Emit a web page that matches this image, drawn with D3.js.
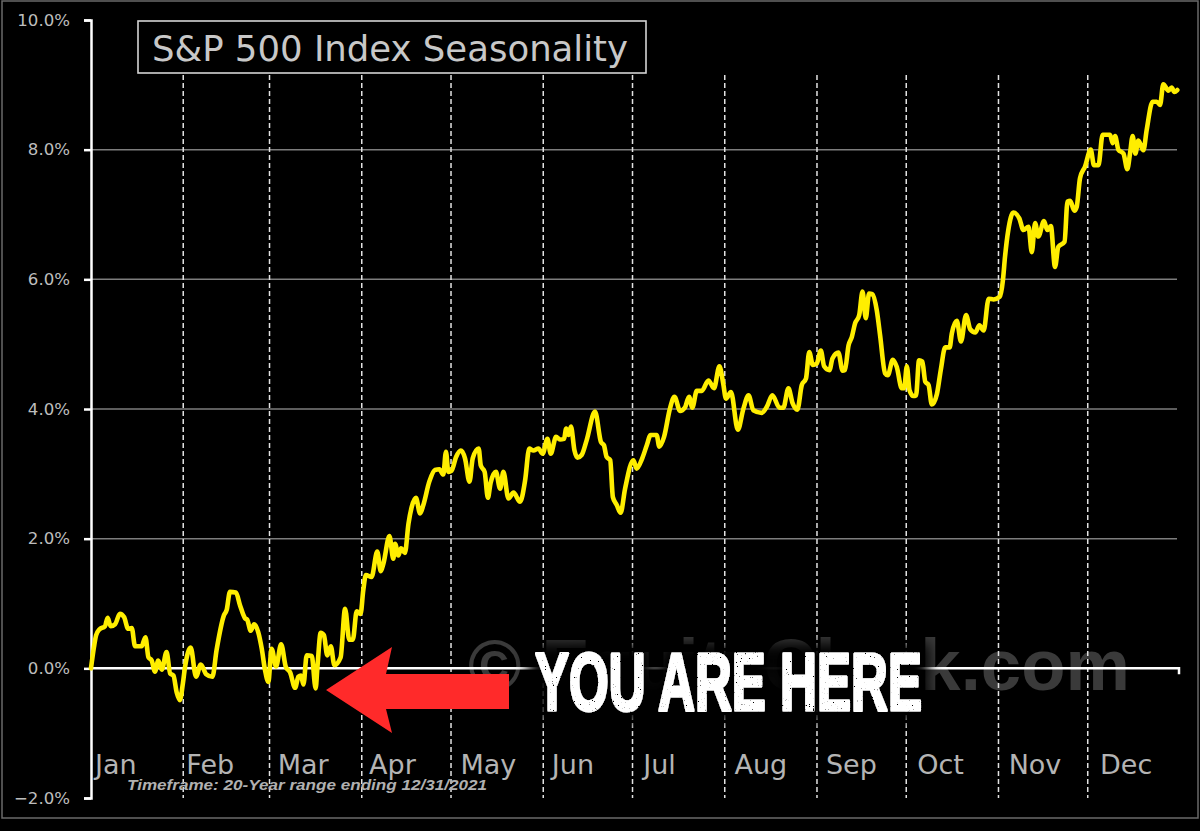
<!DOCTYPE html>
<html>
<head>
    <title>S&amp;P 500 Index Seasonality</title>
    <script src="https://d3js.org/d3.v7.min.js"></script>
    <style>
    html, body { margin: 0; padding: 0; background: #000; overflow: hidden; }
    svg { display: block; }
    </style>
</head>
<body>
<svg id="chart" width="1200" height="831"></svg>

<script type="text/javascript">

const months = ['Jan','Feb','Mar','Apr','May','Jun','Jul','Aug','Sep','Oct','Nov','Dec'];
const monthStarts = [31,60,91,121,152,182,213,244,274,305,335];   //day of year where each dashed line sits
const yTicks = [-2,0,2,4,6,8,10];

//day of year and seasonal return (%)
const days = [
    0,1,1.7,2.8,4.7,5.6,6.6,8.1,9.7,11.1,12.5,13.7,14.8,17,18.3,19.3,20.4,21.5,22.6,23.8,25.4,26.6,27.7,28.8,29.9,
    30.8,31.6,33.5,35.3,36.9,38.7,40.8,42.2,44.7,45.6,46.7,48.7,50.1,51.8,52.5,53.7,54.8,56.2,57.4,58.5,59.6,
    60.7,62.2,63.9,65.5,66.9,68.6,69.7,70.6,71.4,72.5,74.2,75.5,76.1,77.2,78.3,79.4,80.6,81.8,83.9,85.4,86.8,88,89.3,90.6,
    91.5,92.4,94.3,96.2,97.4,98.3,100.3,101.6,102.2,103.3,104.2,105.5,106.7,107.8,109.2,110.6,111.7,113.7,115.6,117.1,118.4,119.3,120.1,
    121.2,122.7,124.3,125.7,127.2,128.3,130.3,131,132.3,133.4,134.3,136.1,137.5,138.6,140.3,142,144.2,145.9,147.3,148.7,150.4,
    151.8,153.4,154.5,156.3,157.6,159,159.7,160.5,161.3,162.5,163.5,164.9,166.6,169.4,171.4,172.4,173.3,174.5,175.4,176.7,178,179.5,
    182.3,183.4,185.1,186.8,188.1,190.1,191,192.6,194.6,196.1,198,199.6,201,202.1,203.6,205.3,207.5,209.4,211.2,
    212.5,213.4,215.1,217.4,219.3,221,222.6,225.4,227.1,229,231.4,232.7,234.4,235.8,237.4,238.9,240.3,241.4,242.6,
    243.9,245.3,246.4,248.2,249.2,251.2,252.6,253.4,254.6,255.7,256.8,258.2,259.3,260.4,261.5,262.6,264.1,265.2,266.9,267.8,269.5,270.8,272.5,273.3,
    274.2,275.1,276.4,277.3,278.3,279.4,280.4,281.5,282.6,284.3,285.6,287.1,288.6,289.3,291,292.4,294.1,295.5,297.2,298.6,300,301.7,303.4,
    305.4,306.5,307.2,308.3,310,312,313.4,315.1,316.2,317.3,318.4,320.3,321.4,322.6,324,325.1,327.2,328.2,329.1,330.5,331.3,332.4,334.1,
    336,337.1,338.6,340,342.5,343.4,344.2,345.3,347,348.3,349.2,350.1,351,352,353.7,354.8,356.8,358.2,359.3,360.4,362.1,363.2,364.1,365.1
];
const seasonality = [
    0,.33,.51,.6,.65,.78,.65,.68,.84,.79,.61,.62,.34,.34,.48,.17,.12,-.05,.12,-.02,.25,-.08,-.11,-.37,-.49,
    -.26,.02,.32,-.13,.06,-.09,-.13,.28,.82,.9,1.18,1.17,.97,.77,.75,.58,.68,.56,.3,-.03,-.21,
    .3,.03,.37,.02,-.06,-.3,-.13,-.11,-.25,.2,.19,-.31,.02,.55,.51,.2,.34,.05,.17,.92,.44,.44,.88,.84,
    1.2,1.44,1.41,1.8,1.5,1.62,2.04,1.69,1.92,1.74,1.85,1.78,2.23,2.49,2.63,2.39,2.52,2.88,3.06,3.07,2.99,3.34,3.03,
    3.05,3.26,3.36,3.24,2.88,3.24,3.39,3.13,3.03,2.63,2.86,3.03,2.77,3.03,2.62,2.71,2.57,2.9,3.39,3.36,3.39,
    3.31,3.54,3.31,3.57,3.53,3.54,3.7,3.6,3.73,3.36,3.25,3.29,3.52,3.96,3.49,3.44,3.26,3.21,2.64,2.52,2.4,2.77,
    3.21,3.08,3.22,3.44,3.6,3.6,3.42,3.57,4.01,4.19,3.97,4.02,4.19,4.02,4.28,4.28,4.44,4.32,4.66,
    4.39,4.16,4.26,3.68,4.01,4.21,3.98,3.94,4.03,4.21,4.02,4.02,4.32,4.09,3.99,4.37,4.47,4.88,4.68,
    4.7,4.9,4.66,4.6,4.78,4.87,4.59,4.6,4.98,5.11,5.32,5.45,5.81,5.4,5.78,5.77,5.52,5.14,4.55,4.52,4.76,4.65,4.32,4.32,
    4.66,4.29,4.2,4.21,4.75,4.73,4.42,4.37,4.07,4.23,4.6,4.95,4.95,5.16,5.36,5.04,5.45,5.23,5.18,5.29,5.21,5.7,5.69,
    5.73,5.99,6.35,6.76,7.03,6.94,6.76,6.81,6.42,6.87,6.66,6.9,6.76,6.82,6.19,6.5,6.58,7.2,7.21,7.06,7.12,7.56,7.74,
    8,7.76,7.76,8.23,8.23,8.1,8.21,8,7.94,7.7,7.94,8.21,7.94,8.14,7.99,8.3,8.74,8.74,8.69,9.01,8.91,8.96,8.89,8.92
];

const svg = d3.select('#chart');
const defs = svg.append('defs');

const xScale = d3.scaleLinear().domain([0,365]).range([91,1177]);
const yScale = d3.scaleLinear().domain([-2,10]).range([798,20]);
const monthScale = d3.scalePoint().domain(months).range([95,1100]);

const sans = '"DejaVu Sans", Verdana, sans-serif';
const labelGrey = '#bdbdbd';

//outer frame
svg.append('rect')
    .attr('x',2).attr('y',1).attr('width',1196).attr('height',817)
    .attr('fill','#000').attr('stroke','#6a6a6a').attr('stroke-width',1.5);

//faint watermark sits under everything else
svg.append('text')
    .attr('x',468).attr('y',690)
    .attr('textLength',662).attr('lengthAdjust','spacingAndGlyphs')
    .style('font-family','"Liberation Sans", Arial, sans-serif')
    .style('font-weight','bold').style('font-size','72px')
    .attr('fill','#3a3a3a')
    .text('© EquityClock.com');

//horizontal grid
svg.append('g').selectAll('line')
    .data(yTicks.filter(d=>d>-2 && d<10 && d!==0))
    .enter().append('line')
    .attr('x1',xScale(0)).attr('x2',xScale(365))
    .attr('y1',d=>yScale(d)).attr('y2',d=>yScale(d))
    .attr('stroke','#7d7d7d').attr('stroke-width',1.5);

//month separators
svg.append('g').selectAll('line')
    .data(monthStarts)
    .enter().append('line')
    .attr('x1',d=>xScale(d)).attr('x2',d=>xScale(d))
    .attr('y1',75).attr('y2',yScale(-2))
    .attr('stroke','#e2e2e2').attr('stroke-width',1.5)
    .attr('stroke-dasharray','5,3');

//zero line with its end tick
svg.append('path')
    .attr('d',`M${xScale(0)},${yScale(0)}H${xScale(365)+2}V${yScale(0)+6}`)
    .attr('fill','none').attr('stroke','#fff').attr('stroke-width',2.5);

//y axis
const yAxis = d3.axisLeft(yScale)
    .tickValues(yTicks)
    .tickFormat(d=>d3.format('.1f')(d)+'%')
    .tickSize(7)
    .tickPadding(14);

const yAxisG = svg.append('g')
    .attr('transform',`translate(${xScale(0)},0)`)
    .call(yAxis);
yAxisG.select('.domain').attr('stroke','#fff').attr('stroke-width',2.5);
yAxisG.selectAll('.tick line').attr('stroke','#fff').attr('stroke-width',2.5);
yAxisG.selectAll('.tick text')
    .style('font-family',sans).style('font-size','16.6px')
    .attr('fill',labelGrey);

//month labels
svg.append('g').selectAll('text')
    .data(months)
    .enter().append('text')
    .attr('x',d=>monthScale(d))
    .attr('y',774)
    .style('font-family',sans).style('font-size','27px')
    .attr('fill','#b4b4b4')
    .text(d=>d);

svg.append('text')
    .attr('x',127).attr('y',790)
    .attr('textLength',360).attr('lengthAdjust','spacingAndGlyphs')
    .style('font-family','"Liberation Sans", Arial, sans-serif')
    .style('font-weight','bold').style('font-style','italic').style('font-size','15px')
    .attr('fill','#b0b0b0')
    .text('Timeframe: 20-Year range ending 12/31/2021');

//the seasonal line
const seasonLine = d3.line()
    .x(d=>xScale(d))
    .y((d,i)=>yScale(seasonality[i]))
    .curve(d3.curveMonotoneX);

svg.append('path')
    .attr('d',seasonLine(days))
    .attr('fill','none')
    .attr('stroke','#ffee00')
    .attr('stroke-width',4.6)
    .attr('stroke-linejoin','round')
    .attr('stroke-linecap','round');

//title box
svg.append('rect')
    .attr('x',138).attr('y',21).attr('width',508).attr('height',52)
    .attr('fill','#000').attr('stroke','#d4d4d4').attr('stroke-width',1.6);
svg.append('text')
    .attr('x',152).attr('y',61)
    .attr('textLength',476).attr('lengthAdjust','spacingAndGlyphs')
    .style('font-family',sans).style('font-size','35px')
    .attr('fill','#c8c8c8')
    .text('S&P 500 Index Seasonality');

//red arrow
svg.append('path')
    .attr('d',d3.line()([[326,690],[392,647],[386,674],[509,674],[509,709],[386,709],[392,733]])+'Z')
    .attr('fill','#ff2a2a');

//you are here: soft black halo behind, speckled print look on the letters
const hereFilter = defs.append('filter').attr('id','here')
    .attr('x','-10%').attr('y','-60%').attr('width','120%').attr('height','220%');
hereFilter.append('feMorphology')
    .attr('in','SourceAlpha').attr('operator','dilate').attr('radius',9).attr('result','wide');
hereFilter.append('feGaussianBlur')
    .attr('in','wide').attr('stdDeviation',7).attr('result','halo');
hereFilter.append('feTurbulence')
    .attr('type','fractalNoise').attr('baseFrequency',0.75).attr('numOctaves',2).attr('seed',4)
    .attr('result','noise');
hereFilter.append('feColorMatrix')
    .attr('in','noise').attr('type','matrix')
    .attr('values','0 0 0 0 0  0 0 0 0 0  0 0 0 0 0  0 0 0 -14 11')
    .attr('result','holes');
hereFilter.append('feComposite')
    .attr('in','SourceGraphic').attr('in2','holes').attr('operator','in').attr('result','letters');
const hereMerge = hereFilter.append('feMerge');
hereMerge.append('feMergeNode').attr('in','halo');
hereMerge.append('feMergeNode').attr('in','letters');

svg.append('text')
    .attr('x',535).attr('y',710)
    .attr('textLength',387).attr('lengthAdjust','spacingAndGlyphs')
    .style('font-family','"Liberation Sans Narrow", "Liberation Sans", sans-serif')
    .style('font-weight','bold').style('font-size','82px')
    .attr('fill','#fff').attr('stroke','#fff').attr('stroke-width',3)
    .attr('stroke-linejoin','round')
    .attr('filter','url(#here)')
    .text('YOU ARE HERE');

</script>
</body>
</html>
